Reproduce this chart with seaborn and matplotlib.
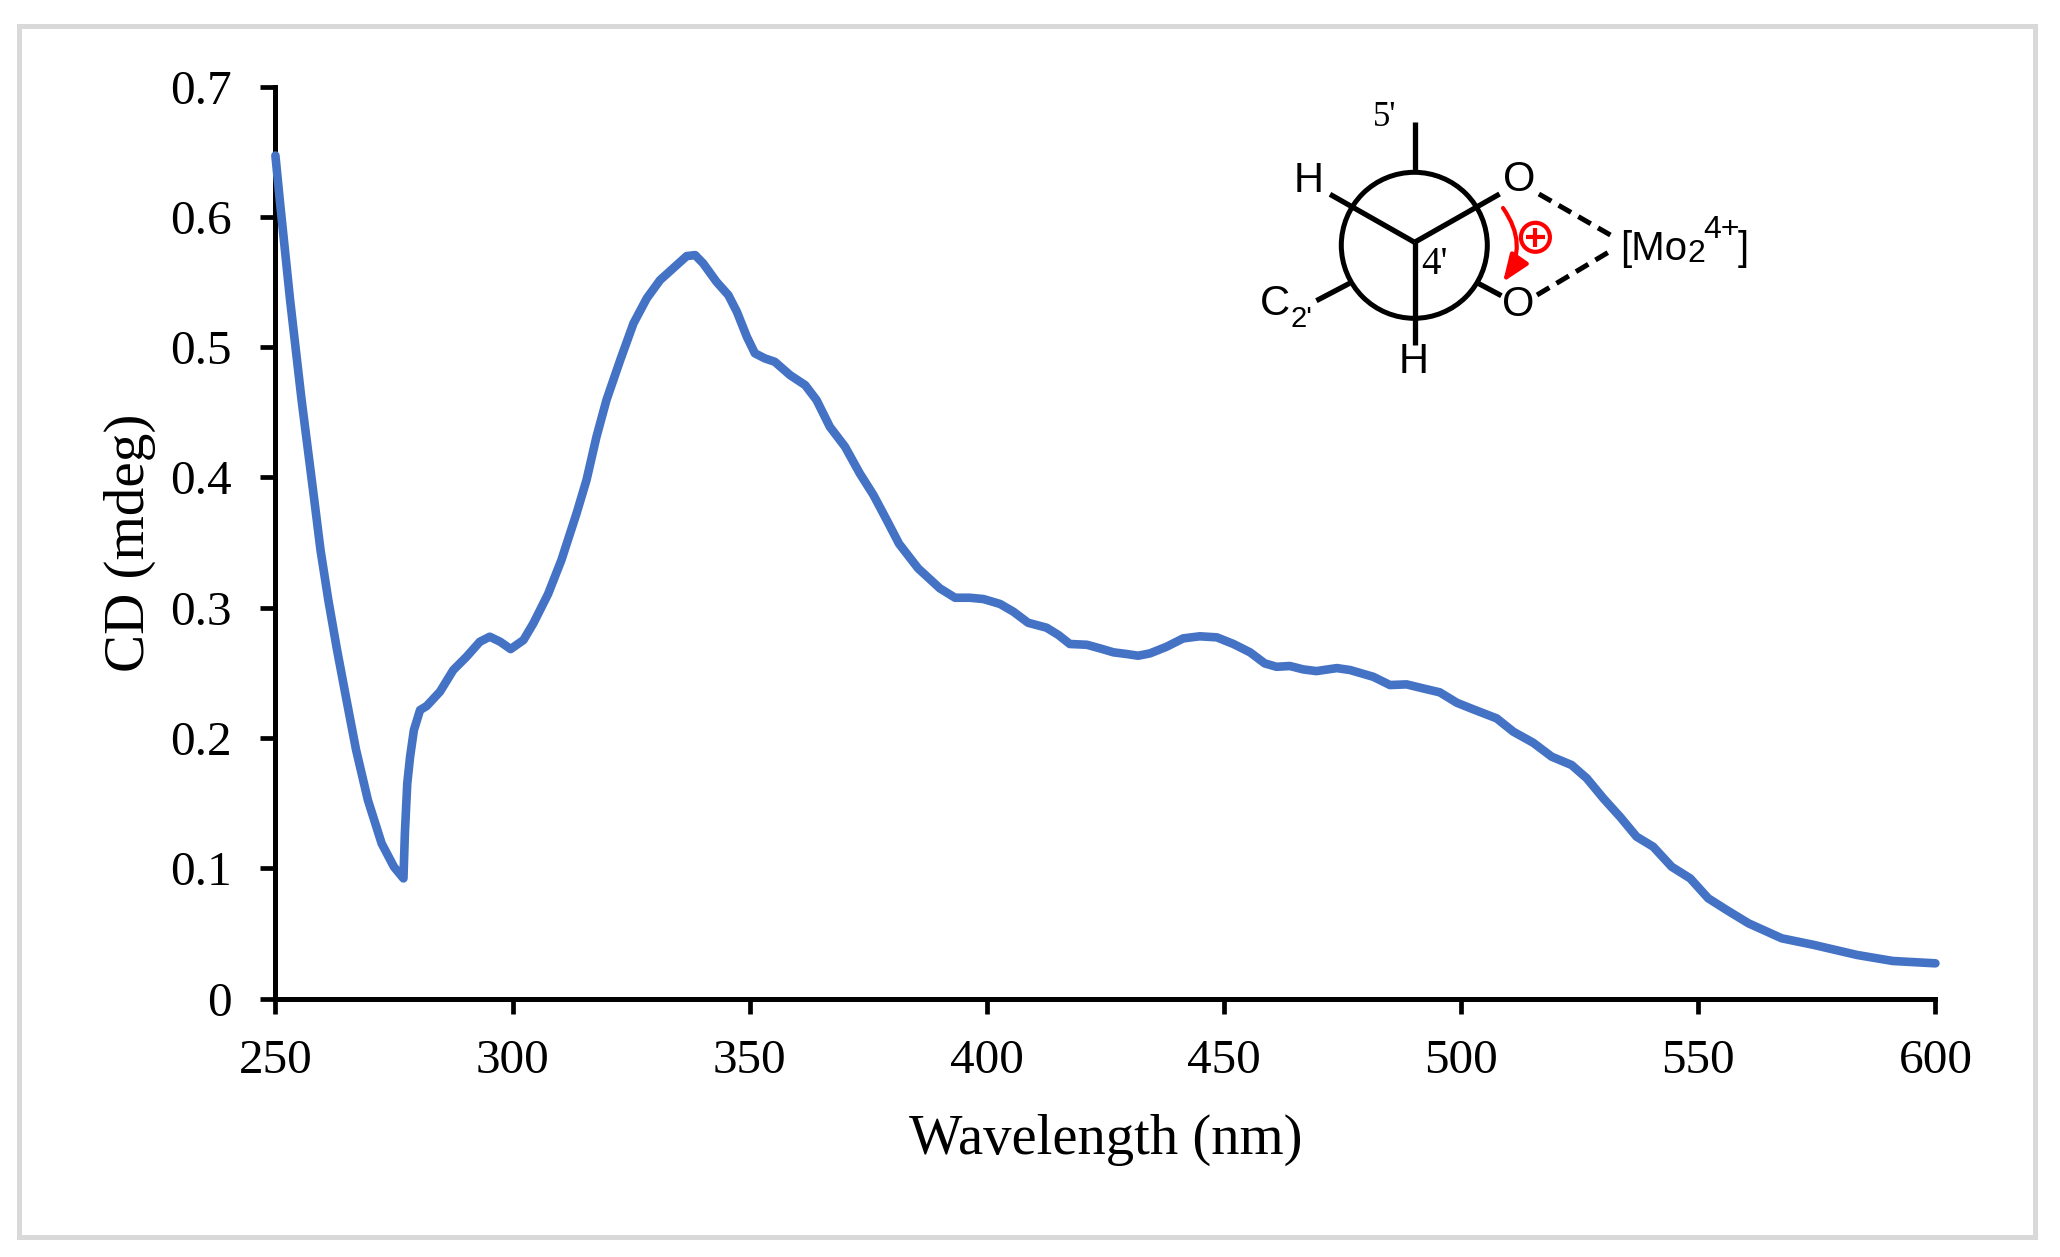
import matplotlib
matplotlib.use("Agg")
import matplotlib.pyplot as plt
from matplotlib.patches import Circle, FancyArrowPatch, Rectangle
import seaborn as sns

# values
wavelength = [250, 251, 253.1, 255.5, 258.2, 259.5, 261.15, 263, 265, 267, 269.5, 272.4, 275, 277,
              277.3, 277.8, 278.4, 279.2, 280.5, 281.9, 284.7, 287.5, 290.3, 293.1, 295.2, 297.4, 299.6,
              302.3, 304.4, 307.5, 310.3, 313.5, 315.6, 317.7, 319.8, 322.7, 325.5, 328.3, 331.1, 334.6,
              336.7, 338.5, 340.2, 343, 345.5, 347.3, 349.4, 351.1, 353.2, 355.3, 358.5, 361.7, 364.1,
              366.9, 370.1, 373.2, 376.1, 378.9, 381.5, 385.5, 390.1, 393.3, 396.4, 399.3, 402.8, 405.6,
              408.7, 412.6, 415.1, 417.5, 421.1, 423.8, 426.7, 429.5, 431.9, 434.4, 437.9, 441.4, 444.9,
              448.5, 452, 455.5, 458.6, 461.1, 463.9, 466.7, 469.5, 473.8, 476.6, 481.5, 485, 488.5, 492,
              495.5, 499.1, 502.6, 507.5, 511, 515.2, 519.1, 523.3, 526.5, 530, 533.5, 537, 540.5, 544.4,
              548.3, 552.1, 556, 560.6, 567.6, 574.4, 583.5, 591, 600]
cd = [0.647, 0.61, 0.536, 0.46, 0.3826, 0.3445, 0.306, 0.2675, 0.229, 0.191, 0.1523, 0.119, 0.101, 0.0922,
      0.1268, 0.165, 0.1856, 0.206, 0.2214, 0.2245, 0.2355, 0.2521, 0.2623, 0.2738, 0.2777, 0.2738, 0.2682,
      0.2751, 0.288, 0.3105, 0.3365, 0.3724, 0.398, 0.4312, 0.4593, 0.49, 0.5182, 0.5374, 0.5514, 0.5629,
      0.5698, 0.5706, 0.5642, 0.5501, 0.5399, 0.5271, 0.5079, 0.4952, 0.4913, 0.4887, 0.4785, 0.4708, 0.4593,
      0.4388, 0.4235, 0.4031, 0.3864, 0.3672, 0.349, 0.3302, 0.3148, 0.3076, 0.3076, 0.3066, 0.3028, 0.2969,
      0.2884, 0.2846, 0.279, 0.2721, 0.2715, 0.2688, 0.2657, 0.2644, 0.2631, 0.2649, 0.27, 0.2764, 0.278,
      0.2772, 0.2721, 0.2657, 0.2572, 0.2546, 0.2552, 0.2526, 0.2513, 0.2536, 0.2521, 0.2469, 0.2406, 0.2411,
      0.238, 0.235, 0.227, 0.2219, 0.215, 0.2048, 0.1963, 0.1856, 0.1792, 0.169, 0.1536, 0.1395, 0.1242,
      0.1165, 0.1011, 0.0922, 0.0769, 0.0679, 0.0577, 0.0462, 0.0411, 0.0334, 0.0288, 0.027]

x_ticks = [250, 300, 350, 400, 450, 500, 550, 600]
y_ticks = [0, 0.1, 0.2, 0.3, 0.4, 0.5, 0.6, 0.7]
y_tick_labels = ["0", "0.1", "0.2", "0.3", "0.4", "0.5", "0.6", "0.7"]

W, H = 2060, 1257
SERIF = "Liberation Serif"
SANS = "Liberation Sans"

sns.set_theme(style="ticks")
plt.rcParams["font.family"] = [SERIF, "DejaVu Serif"]

fig = plt.figure(figsize=(W / 100, H / 100), dpi=100, facecolor="white")
ax = fig.add_axes([275.4 / W, 1 - 998.5 / H, 1660 / W, 912 / H])

sns.lineplot(x=wavelength, y=cd, ax=ax, color="#4472C4", estimator=None, sort=False,
             solid_capstyle="round", solid_joinstyle="round", clip_on=False, zorder=5)
plt.setp(ax.lines, linewidth=6.2)

ax.set_xlim(250, 600)
ax.set_ylim(0, 0.7)
ax.set_xticks(x_ticks)
ax.set_yticks(y_ticks)
ax.set_yticklabels(y_tick_labels)
ax.tick_params(axis="x", length=10.5, width=3.4, color="black", labelsize=35.5, labelcolor="black", pad=19)
ax.tick_params(axis="y", length=10.5, width=3.4, color="black", labelsize=35.5, labelcolor="black", pad=21)
ax.set_xlabel("Wavelength (nm)", fontsize=40.8, color="black", labelpad=22)
ax.set_ylabel("CD (mdeg)", fontsize=41, color="black", labelpad=10)
sns.despine(ax=ax)
for side in ["left", "bottom"]:
    ax.spines[side].set_linewidth(3.6)
    ax.spines[side].set_color("black")

# overlay in pixel coordinates for the outer frame and the Newman projection
ov = fig.add_axes([0, 0, 1, 1], facecolor="none")
ov.set_xlim(0, W)
ov.set_ylim(H, 0)
ov.axis("off")
ov.add_patch(Rectangle((18.5, 25.5), 2016.5, 1211, fill=False, edgecolor="#D9D9D9", linewidth=3.6))

ov.add_patch(Circle((1414.3, 245.3), 73, fill=False, edgecolor="black", linewidth=3.6))
bonds = [((1414.6, 121.7), (1414.6, 172.3)),
         ((1414.6, 242.3), (1414.6, 345)),
         ((1414.6, 242.3), (1330, 194.3)),
         ((1414.6, 242.3), (1499.6, 194)),
         ((1349.6, 283.3), (1316.4, 300.7)),
         ((1478.2, 283.3), (1501.4, 295.7))]
for a, b in bonds:
    ov.plot([a[0], b[0]], [a[1], b[1]], color="black", lw=3.8, solid_capstyle="butt")
for a, b in [((1538.9, 194), (1610.4, 235)), ((1537, 295), (1609.3, 251.7))]:
    ov.plot([a[0], b[0]], [a[1], b[1]], color="black", lw=3.6, linestyle=(0, (2.88, 1.66)))

def sans(x, y, s, size=30, **kw):
    ov.text(x, y, s, family=SANS, fontsize=size, color="black", ha="center", va="center", **kw)

sans(1309, 181, "H")
sans(1519, 180, "O")
sans(1518.6, 305, "O")
sans(1414, 362, "H")
sans(1274.6, 304, "C")
sans(1301, 319, "2'", size=21)
ov.text(1620, 260, "[Mo", family=SANS, fontsize=29, color="black", ha="left", va="baseline")
ov.text(1687, 262, "2", family=SANS, fontsize=23, color="black", ha="left", va="baseline")
ov.text(1703, 238, "4+", family=SANS, fontsize=23, color="black", ha="left", va="baseline")
ov.text(1738, 260, "]", family=SANS, fontsize=29, color="black", ha="left", va="baseline")
ov.text(1385, 118, "5'", family=SERIF, fontsize=25, color="black", ha="center", va="center")
ov.text(1435, 265, "4'", family=SERIF, fontsize=28, color="black", ha="center", va="center")

# red rotation arrow with the plus sign
ov.add_patch(FancyArrowPatch((1503, 208), (1503, 282), connectionstyle="arc3,rad=-0.35",
                             arrowstyle="-|>,head_length=1.65,head_width=0.65", mutation_scale=10,
                             color="#FF0000", linewidth=3, shrinkA=0, shrinkB=0))
ov.add_patch(Circle((1535.4, 237.3), 14.5, fill=False, edgecolor="#FF0000", linewidth=3))
ov.plot([1526, 1545], [237.3, 237.3], color="#FF0000", lw=3, solid_capstyle="butt")
ov.plot([1535.4, 1535.4], [228, 247], color="#FF0000", lw=3, solid_capstyle="butt")

fig.savefig("out.png", dpi=100)
